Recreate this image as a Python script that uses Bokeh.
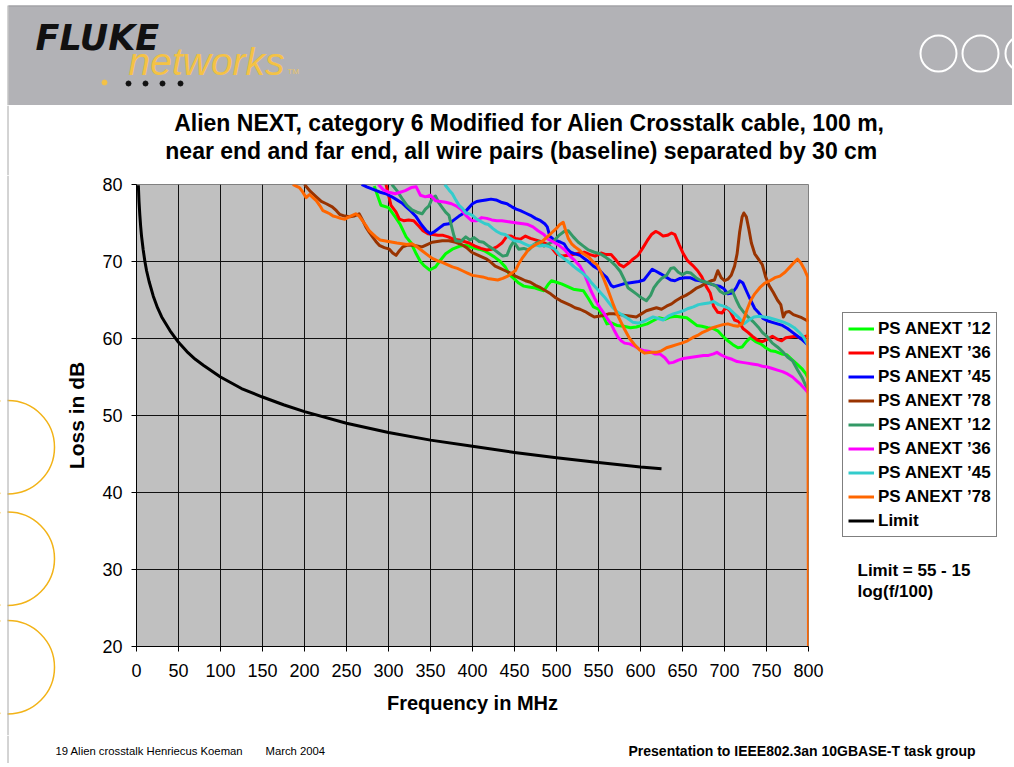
from bokeh.plotting import figure
from bokeh.models import Range1d, Legend, LegendItem, Label, FixedTicker
from bokeh.layouts import column, row
from bokeh.embed import file_html
from bokeh.resources import INLINE

FONT = "Liberation Sans"

# ---------------- data ----------------
X_TICKS = [0, 50, 100, 150, 200, 250, 300, 350, 400, 450, 500, 550, 600, 650, 700, 750, 800]
Y_TICKS = [20, 30, 40, 50, 60, 70, 80]

TITLE_1 = "Alien NEXT, category 6 Modified for Alien Crosstalk cable, 100 m,"
TITLE_2 = "near end and far end, all wire pairs (baseline) separated by  30 cm"
X_LABEL = "Frequency in MHz"
Y_LABEL = "Loss in dB"
SERIES_NAMES = ["PS ANEXT \u201912", "PS ANEXT \u201936", "PS ANEXT \u201945", "PS ANEXT \u201978",
                "PS ANEXT \u201912", "PS ANEXT \u201936", "PS ANEXT \u201945", "PS ANEXT \u201978", "Limit"]
NOTE_1 = "Limit = 55 - 15"
NOTE_2 = "log(f/100)"
FOOT_LEFT = "19 Alien crosstalk Henriecus Koeman"
FOOT_DATE = "March 2004"
FOOT_RIGHT = "Presentation to IEEE802.3an 10GBASE-T task group"

limit_f = [2.2, 3, 4, 5, 6, 8, 10, 12, 15, 20, 25, 30, 40, 50, 60, 70, 80, 100, 125, 150, 175,
           200, 250, 300, 350, 400, 450, 500, 550, 600, 625]
limit_db = [79.9, 77.8, 76.0, 74.5, 73.3, 71.5, 70.0, 68.8, 67.4, 65.5, 64.0, 62.8, 61.0, 59.5, 58.3,
            57.3, 56.5, 55.0, 53.5, 52.4, 51.4, 50.5, 49.0, 47.8, 46.8, 46.0, 45.2, 44.5, 43.9, 43.3, 43.1]

green12_f = [283, 291, 300, 308, 314, 321, 327, 333, 338, 342, 349, 356, 362, 368, 376, 385, 393, 400,
             408, 414, 420, 426, 433, 439, 444, 449, 455, 461, 467, 473, 479, 485, 490, 494, 500, 506,
             512, 520, 526, 532, 538, 544, 550, 556, 560, 566, 572, 580, 588, 595, 602, 608, 615, 622,
             629, 636, 642, 648, 655, 661, 667, 673, 680, 686, 692, 698, 704, 710, 716, 721, 726, 731,
             737, 743, 749, 755, 761, 768, 774, 780, 786, 792, 797, 800]
green12_db = [79.8, 77.3, 77.0, 75.8, 74.8, 73.2, 72.4, 71.0, 70.0, 69.5, 68.9, 69.3, 70.2, 71.0, 71.6,
              72.0, 72.1, 71.8, 71.6, 71.4, 71.0, 70.6, 70.0, 69.3, 68.3, 67.8, 67.2, 66.8, 66.7, 66.6,
              66.4, 66.2, 67.0, 67.5, 67.3, 67.1, 66.8, 66.4, 66.3, 66.2, 65.2, 64.1, 63.8, 62.8, 61.9,
              62.0, 61.7, 61.6, 61.4, 61.5, 61.7, 61.9, 62.3, 62.7, 62.5, 62.8, 62.9, 62.8, 62.7, 62.2,
              61.7, 61.6, 61.4, 61.3, 61.0, 60.3, 59.7, 59.2, 58.8, 58.9, 59.6, 60.1, 59.6, 59.3, 58.8,
              58.4, 58.3, 58.0, 57.9, 57.3, 56.7, 56.1, 55.4, 54.8]

red36_f = [297, 303, 309, 313, 318, 324, 330, 336, 341, 347, 353, 359, 365, 371, 377, 384, 390, 396,
           403, 410, 417, 423, 429, 435, 441, 446, 451, 457, 463, 469, 475, 481, 488, 494, 500, 507,
           514, 520, 527, 533, 540, 546, 553, 559, 565, 570, 575, 580, 586, 591, 597, 603, 608, 613,
           618, 622, 627, 632, 637, 641, 646, 651, 656, 662, 668, 673, 678, 683, 687, 692, 697, 702,
           707, 712, 717, 722, 728, 733, 739, 745, 751, 757, 763, 768, 773, 779, 785, 791, 797, 800]
red36_db = [80.0, 77.3, 76.4, 75.5, 75.3, 75.4, 75.3, 74.6, 74.0, 73.6, 73.5, 73.4, 73.4, 73.2, 72.9,
            72.8, 72.6, 72.4, 72.0, 71.7, 71.5, 71.6, 71.9, 72.4, 73.3, 73.3, 73.0, 72.9, 73.3, 73.0,
            72.8, 72.6, 72.3, 71.8, 71.0, 70.7, 70.8, 70.9, 71.1, 71.2, 70.9, 70.7, 71.1, 70.9, 70.9,
            70.3, 69.6, 69.3, 69.8, 70.3, 70.8, 71.8, 72.7, 73.5, 73.9, 73.7, 73.3, 73.4, 73.7, 73.5,
            72.2, 71.0, 70.1, 69.5, 68.8, 68.0, 66.8, 65.9, 64.2, 63.4, 63.3, 64.1, 63.5, 62.4, 62.2,
            61.3, 60.8, 60.3, 59.8, 59.6, 59.9, 60.3, 59.9, 59.7, 60.1, 60.2, 60.3, 60.0, 60.3, 60.4]

blue45_f = [268, 274, 281, 290, 297, 304, 310, 316, 321, 327, 333, 339, 345, 350, 355, 361, 366, 372,
            378, 384, 390, 395, 400, 405, 410, 416, 422, 428, 434, 441, 447, 452, 457, 463, 469, 475,
            481, 486, 489, 492, 496, 500, 505, 509, 513, 517, 522, 528, 533, 538, 544, 550, 556, 560,
            565, 568, 574, 580, 586, 592, 598, 604, 609, 614, 619, 624, 630, 636, 641, 647, 653, 659,
            665, 671, 677, 683, 689, 694, 699, 704, 709, 714, 718, 722, 726, 731, 736, 741, 746, 751,
            757, 763, 769, 775, 781, 787, 793, 798, 800]
blue45_db = [80.0, 79.7, 79.4, 79.0, 78.8, 78.4, 78.0, 77.6, 77.1, 76.5, 75.8, 74.8, 74.0, 73.6, 73.9,
             74.4, 74.8, 74.9, 75.4, 75.9, 76.3, 76.9, 77.5, 77.8, 77.9, 78.0, 78.1, 78.0, 77.7, 77.5,
             77.1, 76.8, 76.6, 76.3, 76.0, 75.6, 75.3, 74.9, 74.5, 73.3, 72.9, 72.7, 72.5, 72.3, 71.6,
             71.2, 71.0, 70.8, 70.4, 70.0, 69.4, 69.0, 68.3, 67.9, 66.9, 66.7, 66.9, 67.1, 67.2, 67.3,
             67.4, 67.6, 68.3, 69.0, 68.7, 68.4, 68.0, 67.6, 67.5, 67.8, 67.9, 67.9, 67.6, 67.5, 67.3,
             67.1, 66.9, 66.8, 66.5, 65.8, 65.9, 66.6, 67.5, 67.2, 66.2, 65.0, 63.9, 63.3, 62.6, 62.3,
             62.1, 61.9, 61.7, 61.3, 60.8, 60.3, 59.8, 59.3, 59.1]

brown78_f = [200, 207, 214, 220, 226, 233, 238, 242, 248, 254, 259, 265, 269, 273, 277, 281, 285, 289,
             295, 301, 305, 309, 313, 317, 322, 328, 334, 340, 346, 352, 358, 364, 372, 380, 387, 393,
             399, 405, 411, 417, 422, 427, 433, 439, 445, 451, 457, 463, 469, 475, 481, 487, 493, 499,
             505, 511, 517, 522, 528, 534, 540, 545, 550, 556, 562, 568, 575, 582, 589, 595, 601, 607,
             613, 619, 625, 631, 637, 642, 648, 654, 660, 666, 672, 678, 684, 688, 692, 696, 700, 704,
             708, 712, 715, 718, 721, 723, 726, 729, 732, 736, 741, 745, 749, 753, 758, 763, 767, 770,
             773, 777, 782, 787, 792, 797, 800]
brown78_db = [80.0, 79.1, 78.4, 77.8, 77.5, 77.1, 76.6, 76.1, 75.9, 75.8, 75.9, 76.2, 75.4, 74.5, 73.8,
              73.2, 72.6, 72.1, 71.8, 71.6, 71.1, 70.8, 71.4, 71.9, 72.1, 72.1, 72.0, 71.9, 72.2, 72.5,
              72.6, 72.7, 72.7, 72.5, 72.2, 71.8, 71.2, 70.9, 70.6, 70.3, 69.9, 69.4, 69.1, 68.8, 68.5,
              68.1, 67.8, 67.5, 67.3, 66.9, 66.6, 66.2, 65.8, 65.3, 64.9, 64.6, 64.3, 64.0, 63.8, 63.5,
              63.1, 62.8, 62.9, 63.0, 63.2, 63.2, 63.1, 63.0, 62.9, 62.8, 63.2, 63.6, 63.8, 64.0, 63.8,
              64.2, 64.5, 64.9, 65.3, 65.6, 66.0, 66.5, 66.8, 67.2, 67.5, 67.6, 68.8, 67.9, 67.5, 67.7,
              68.2, 69.4, 71.0, 73.8, 75.8, 76.3, 75.8, 74.2, 72.4, 71.0, 70.2, 69.6, 68.0, 66.9, 66.0,
              65.0, 64.4, 62.8, 63.4, 63.5, 63.1, 62.9, 62.7, 62.4, 62.2]

sea12_f = [304, 310, 316, 322, 328, 334, 340, 344, 348, 352, 356, 360, 364, 368, 372, 375, 378, 380,
           386, 392, 397, 402, 408, 413, 419, 425, 431, 436, 441, 445, 449, 455, 461, 467, 473, 479,
           485, 491, 497, 503, 509, 514, 520, 526, 532, 538, 545, 552, 558, 564, 570, 576, 581, 585,
           590, 595, 601, 607, 612, 616, 620, 625, 631, 636, 640, 645, 650, 655, 660, 666, 672, 678,
           684, 690, 695, 700, 705, 709, 714, 718, 723, 728, 734, 740, 745, 751, 757, 763, 769, 775,
           781, 787, 793, 798, 800]
sea12_db = [80.0, 79.2, 78.2, 77.3, 76.7, 76.4, 76.2, 76.8, 77.2, 78.2, 78.5, 77.6, 77.0, 76.4, 76.0,
            74.6, 73.3, 72.7, 72.6, 73.2, 72.8, 73.1, 72.6, 72.5, 72.0, 71.6, 71.1, 70.7, 70.8, 71.9,
            72.6, 71.6, 71.7, 71.5, 72.2, 72.6, 72.0, 72.3, 72.7, 73.4, 73.9, 74.0, 73.2, 72.5, 72.0,
            71.5, 71.2, 71.0, 70.6, 70.1, 69.5, 68.7, 67.6, 66.6, 66.2, 65.8, 65.3, 64.9, 65.6, 66.6,
            67.2, 67.8, 68.2, 69.1, 69.2, 68.6, 68.3, 68.6, 68.5, 67.9, 67.5, 67.3, 67.1, 66.8, 66.1,
            65.8, 66.0, 66.3, 65.0, 64.1, 63.4, 62.8, 62.2, 61.5, 60.8, 60.2, 59.4, 58.9, 58.3, 57.6,
            57.1, 55.9, 54.8, 53.6, 53.2]

mag36_f = [288, 294, 300, 308, 314, 320, 327, 333, 338, 344, 350, 356, 362, 368, 375, 381, 387, 392,
           399, 405, 411, 417, 423, 429, 435, 441, 447, 453, 460, 466, 472, 478, 485, 490, 497, 504,
           510, 516, 522, 528, 533, 537, 541, 545, 549, 553, 557, 561, 565, 569, 573, 577, 581, 587,
           593, 599, 605, 611, 617, 623, 629, 634, 639, 645, 651, 657, 663, 669, 675, 681, 687, 691,
           697, 703, 709, 715, 721, 727, 733, 739, 745, 751, 757, 763, 769, 775, 781, 786, 791, 796, 800]
mag36_db = [80.0, 79.3, 79.0, 78.8, 79.0, 79.2, 79.6, 79.7, 78.6, 78.4, 78.6, 77.9, 77.8, 77.7, 77.5,
            77.2, 76.7, 76.0, 75.3, 75.3, 75.7, 75.6, 75.4, 75.3, 75.3, 75.2, 75.1, 75.0, 74.9, 74.8,
            74.5, 74.0, 73.5, 72.9, 72.5, 72.0, 71.5, 70.7, 70.1, 69.4, 68.4, 67.3, 66.2, 65.3, 64.5,
            63.8, 63.2, 62.5, 61.9, 61.0, 60.2, 59.7, 59.4, 59.3, 59.0, 58.6, 58.4, 58.3, 58.0, 58.0,
            57.5, 56.8, 56.9, 57.2, 57.4, 57.5, 57.6, 57.7, 57.8, 57.8, 58.0, 58.2, 57.8, 57.5, 57.3,
            57.0, 56.9, 56.8, 56.7, 56.6, 56.4, 56.3, 56.1, 55.9, 55.7, 55.4, 55.0, 54.5, 54.0, 53.4, 52.9]

cyan45_f = [367, 372, 376, 380, 384, 388, 392, 396, 400, 405, 410, 415, 419, 424, 429, 434, 439, 445,
            450, 456, 462, 468, 474, 480, 486, 492, 498, 504, 510, 516, 521, 526, 531, 537, 542, 547,
            552, 557, 562, 567, 573, 579, 585, 591, 597, 603, 609, 615, 621, 627, 633, 639, 645, 651,
            657, 663, 669, 675, 681, 687, 693, 699, 705, 711, 717, 723, 729, 735, 741, 747, 753, 759,
            765, 771, 777, 783, 789, 794, 798, 800]
cyan45_db = [80.0, 79.3, 78.8, 78.0, 77.3, 76.9, 76.3, 76.2, 76.0, 75.5, 75.2, 74.9, 74.8, 74.3, 73.9,
             73.6, 73.5, 73.0, 72.7, 72.6, 72.3, 72.0, 72.2, 72.0, 72.1, 71.9, 71.6, 70.8, 70.3, 69.8,
             69.3, 68.9, 68.5, 67.9, 67.2, 66.6, 66.0, 65.4, 64.7, 64.0, 63.4, 63.0, 62.6, 62.1, 62.0,
             62.2, 62.5, 62.8, 62.6, 62.4, 62.9, 63.2, 63.4, 63.6, 63.9, 64.1, 64.4, 64.5, 64.6, 64.8,
             64.4, 64.2, 63.9, 63.3, 62.7, 61.9, 62.4, 62.8, 62.9, 62.8, 62.7, 62.5, 62.3, 62.1, 61.8,
             61.4, 60.8, 60.2, 59.4, 59.0]

orange78_f = [186, 190, 194, 198, 202, 206, 210, 214, 218, 222, 226, 230, 234, 238, 243, 248, 253, 257,
              261, 265, 269, 273, 277, 281, 285, 290, 295, 300, 305, 310, 316, 322, 328, 334, 340, 346,
              352, 358, 364, 370, 376, 382, 388, 394, 400, 406, 412, 418, 424, 430, 436, 442, 447, 451,
              455, 459, 463, 467, 471, 477, 483, 489, 494, 499, 504, 508, 511, 514, 518, 522, 527, 532,
              538, 544, 548, 552, 556, 560, 564, 568, 572, 576, 581, 587, 593, 599, 605, 613, 619, 625,
              631, 637, 643, 649, 656, 662, 668, 674, 680, 686, 692, 698, 704, 710, 716, 721, 724, 727,
              731, 736, 742, 748, 754, 760, 766, 772, 778, 783, 787, 791, 795, 799, 800]
orange78_db = [80.0, 79.8, 79.6, 79.0, 78.3, 78.7, 78.3, 77.9, 77.3, 76.6, 76.4, 76.2, 75.9, 75.8, 75.6,
               75.5, 75.8, 76.0, 76.2, 75.9, 75.3, 74.7, 74.0, 73.6, 73.2, 72.8, 72.7, 72.6, 72.5, 72.4,
               72.3, 72.2, 72.3, 71.9, 71.4, 70.9, 70.4, 70.1, 69.9, 69.6, 69.3, 69.1, 68.8, 68.5, 68.2,
               68.1, 68.0, 67.8, 67.7, 67.6, 67.8, 68.1, 68.5, 68.8, 69.7, 70.4, 71.0, 71.6, 71.9, 72.3,
               72.6, 73.2, 73.7, 74.2, 74.8, 75.1, 74.0, 73.0, 72.3, 71.9, 71.5, 71.0, 70.6, 69.9, 69.6,
               68.8, 67.8, 66.7, 65.5, 64.3, 63.2, 62.3, 61.2, 60.0, 59.2, 58.5, 58.1, 58.2, 58.2, 58.4,
               58.8, 59.0, 59.2, 59.4, 59.7, 60.1, 60.4, 60.8, 61.1, 61.4, 61.6, 61.8, 61.9, 61.7, 61.6,
               61.9, 62.8, 63.8, 64.9, 65.8, 66.6, 67.2, 67.5, 67.9, 68.1, 68.6, 69.3, 69.9, 70.3, 69.8,
               69.0, 68.0, 20.0]

SERIES_COLORS = ["#00FF00", "#FF0000", "#0000FF", "#993300", "#339966", "#FF00FF", "#33CCCC",
                 "#FF6600", "#000000"]

W = 1012
BORDER_GREY = "#A8A8A8"


def deco(width, height, x0, y0):
    """Plain figure whose data units equal page pixels (y grows downward)."""
    f = figure(width=width, height=height, x_range=Range1d(x0, x0 + width),
               y_range=Range1d(y0 + height, y0), output_backend="svg", toolbar_location=None,
               min_border=0, x_axis_location=None, y_axis_location=None,
               background_fill_color="white", border_fill_color="white", frame_align=False)
    f.grid.visible = False
    f.outline_line_color = None
    return f


# ---------------- banner (page y 0..105) ----------------
banner = deco(W, 105, 0, 0)
banner.quad(left=[8], right=[W], top=[5], bottom=[105], fill_color="#B2B2B6", line_color=None)
banner.segment(x0=[8], y0=[5.5], x1=[W], y1=[5.5], line_color="#9A9A9E", line_width=1)
banner.segment(x0=[7.5], y0=[5], x1=[7.5], y1=[105], line_color=BORDER_GREY, line_width=1)
banner.add_layout(Label(x=35, y=37, text="FLUKE", text_font="DejaVu Sans", text_font_size="35px",
                        text_font_style="bold italic", text_color="#111111", text_baseline="middle"))
banner.add_layout(Label(x=128, y=61, text="networks", text_font=FONT, text_font_size="39px",
                        text_font_style="italic", text_color="#F4C245", text_baseline="middle"))
banner.add_layout(Label(x=287, y=71, text="TM", text_font=FONT, text_font_size="8px",
                        text_color="#E6C46A", text_baseline="middle"))
banner.scatter(x=[104], y=[82], size=5, color="#F4C245")
banner.scatter(x=[128, 145, 162, 180], y=[83, 83, 83, 83], size=5, color="#111111")
banner.circle(x=[938, 980, 1023], y=[53, 53, 53], radius=18, fill_color=None,
              line_color="white", line_width=2)

# ---------------- title strip (page y 105..175) ----------------
tfig = deco(W, 70, 0, 105)
tfig.segment(x0=[7.5], y0=[105], x1=[7.5], y1=[175], line_color=BORDER_GREY, line_width=1)
tfig.add_layout(Label(x=529, y=122, text=TITLE_1, text_font=FONT, text_font_size="23px",
                      text_font_style="bold", text_color="black", text_align="center",
                      text_baseline="middle"))
tfig.add_layout(Label(x=524, y=150, text=TITLE_2, text_font=FONT, text_font_size="23px",
                      text_font_style="bold", text_color="black", text_align="center",
                      text_baseline="middle"))

# ---------------- left strip (page x 0..62, y 175..735) ----------------
left = deco(62, 560, 0, 175)
left.circle(x=[7.3, 7.3, 7.3], y=[446.7, 558.3, 666.7], radius=46.7, fill_color=None,
            line_color="#F2B318", line_width=1.5)
left.quad(left=[0], right=[7], top=[175], bottom=[735], fill_color="white", line_color=None)
left.segment(x0=[7.5], y0=[175], x1=[7.5], y1=[735], line_color=BORDER_GREY, line_width=1)

# ---------------- chart (page x 62..836, y 175..735) ----------------
chart = figure(width=774, height=560, x_range=Range1d(0, 800), y_range=Range1d(20, 80),
               output_backend="svg", toolbar_location=None, frame_align=False,
               min_border_left=71, min_border_right=28, min_border_top=9, min_border_bottom=89,
               background_fill_color="#C0C0C0", border_fill_color="white")
chart.outline_line_color = "#808080"

for ax, ticks in ((chart.xaxis, X_TICKS), (chart.yaxis, Y_TICKS)):
    ax.ticker = FixedTicker(ticks=ticks)
    ax.major_tick_in = 0
    ax.major_tick_out = 5
    ax.minor_tick_line_color = None
    ax.axis_line_color = "black"
    ax.major_tick_line_color = "black"
    ax.major_label_text_font = FONT
    ax.major_label_text_font_size = "18px"
    ax.major_label_text_color = "black"
    ax.axis_label_text_font = FONT
    ax.axis_label_text_font_style = "bold"
    ax.axis_label_text_color = "black"

chart.xaxis.axis_label_text_font_size = "20px"
chart.yaxis.axis_label_text_font_size = "21px"
chart.xaxis.axis_label = X_LABEL
chart.yaxis.axis_label = Y_LABEL
chart.xaxis.major_label_standoff = 12
chart.xaxis.axis_label_standoff = 12
chart.yaxis.major_label_standoff = 9
chart.yaxis.axis_label_standoff = 11

chart.xgrid.ticker = FixedTicker(ticks=X_TICKS)
chart.ygrid.ticker = FixedTicker(ticks=Y_TICKS)
chart.grid.grid_line_color = "#111111"
chart.grid.grid_line_width = 1

series = [(green12_f, green12_db), (red36_f, red36_db), (blue45_f, blue45_db),
          (brown78_f, brown78_db), (sea12_f, sea12_db), (mag36_f, mag36_db),
          (cyan45_f, cyan45_db), (orange78_f, orange78_db), (limit_f, limit_db)]

for (fx, fy), color in zip(series, SERIES_COLORS):
    chart.line(fx, fy, line_color=color, line_width=3, line_join="round")

# ---------------- right strip: legend + note (page x 836..1012, y 175..735) ----------------
rfig = deco(W - 836, 560, 836, 175)
items = []
for name, color in zip(SERIES_NAMES, SERIES_COLORS):
    # legend key only: a tiny stroke kept outside this strip's visible range
    r = rfig.line(x=[0, 1], y=[0, 0], line_color=color, line_width=3)
    items.append(LegendItem(label=name, renderers=[r]))
legend = Legend(items=items, location=(6, 198), margin=0, padding=5, spacing=3,
                label_height=21, glyph_height=21, glyph_width=26, label_standoff=4,
                label_text_font=FONT, label_text_font_size="17px", label_text_font_style="bold",
                label_text_color="black", border_line_color="black", border_line_width=1,
                background_fill_color="white", background_fill_alpha=1.0)
rfig.add_layout(legend)
rfig.add_layout(Label(x=857, y=570, text=NOTE_1, text_font=FONT, text_font_size="17px",
                      text_font_style="bold", text_color="black", text_baseline="middle"))
rfig.add_layout(Label(x=857, y=591, text=NOTE_2, text_font=FONT, text_font_size="17px",
                      text_font_style="bold", text_color="black", text_baseline="middle"))

# ---------------- footer (page y 735..763) ----------------
footer = deco(W, 28, 0, 735)
footer.segment(x0=[7.5], y0=[735], x1=[7.5], y1=[763], line_color=BORDER_GREY, line_width=1)
footer.add_layout(Label(x=55, y=750, text=FOOT_LEFT, text_font=FONT, text_font_size="11.3px",
                        text_color="black", text_baseline="middle"))
footer.add_layout(Label(x=265, y=750, text=FOOT_DATE, text_font=FONT, text_font_size="11.3px",
                        text_color="black", text_baseline="middle"))
footer.add_layout(Label(x=975, y=750, text=FOOT_RIGHT, text_font=FONT, text_font_size="14px",
                        text_font_style="bold", text_color="black", text_baseline="middle",
                        text_align="right"))

layout = column(banner, tfig, row(left, chart, rfig), footer)

open("out.html", "w").write(file_html(layout, INLINE))
